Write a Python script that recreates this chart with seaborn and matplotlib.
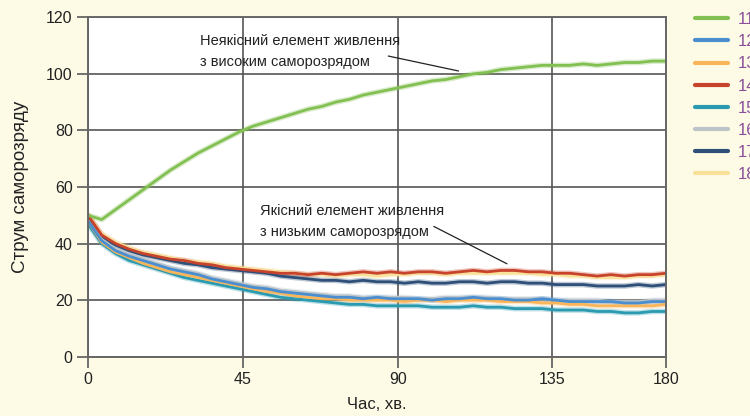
import pandas as pd
import matplotlib
matplotlib.use('Agg')
import matplotlib.pyplot as plt
import seaborn as sns

# time axis (minutes, read in the picture's own scale)
minutes = list(range(0, 169, 4))

series_names = ['11', '12', '13', '14', '15', '16', '17', '18']
series_colors = ['#82c052', '#4a8ed0', '#f9b55a', '#c8432c',
                 '#2a9ab0', '#bcc4c8', '#2d4f78', '#f9e19a']

cell_11 = [50, 48.5, 52, 55.5, 59, 62.5, 66, 69, 72, 74.5, 77, 79.5, 81.5, 83, 84.5,
           86, 87.5, 88.5, 90, 91, 92.5, 93.5, 94.5, 95.5, 96.5, 97.5, 98, 99, 100,
           100.5, 101.5, 102, 102.5, 103, 103, 103, 103.5, 103, 103.5, 104, 104, 104.5, 104.5]
cell_12 = [48, 41, 37.5, 35.5, 34, 32.5, 31, 30, 29, 27.5, 26.5, 25.5, 24.5, 24, 23,
           22.5, 22, 21.5, 21, 21, 20.5, 21, 20.5, 20.5, 20.5, 20, 20.5, 20.5, 21,
           20.5, 20.5, 20, 20, 20.5, 20, 19.5, 19.5, 19.5, 19.5, 19, 19, 19.5, 19.5]
cell_13 = [48, 40.5, 37, 35, 33, 31.5, 30, 29, 28, 27, 26, 25, 24, 23, 22.5,
           21.5, 21, 20.5, 20.5, 20, 20, 20, 20, 19.5, 20, 20, 19.5, 20, 20,
           20, 19.5, 19.5, 19.5, 19, 19, 18.5, 18.5, 18, 18, 18, 18, 18, 18.5]
cell_14 = [50, 43, 40, 38, 36.5, 35.5, 34.5, 34, 33, 32.5, 31.5, 31, 30.5, 30, 29.5,
           29.5, 29, 29.5, 29, 29.5, 30, 29.5, 30, 29.5, 30, 30, 29.5, 30, 30.5,
           30, 30.5, 30.5, 30, 30, 29.5, 29.5, 29, 28.5, 29, 28.5, 29, 29, 29.5]
cell_15 = [47, 40, 36.5, 34, 32.5, 31, 29.5, 28, 27, 26, 25, 24, 23, 22, 21,
           20.5, 20, 19.5, 19, 18.5, 18.5, 18, 18, 18, 18, 17.5, 17.5, 17.5, 18,
           17.5, 17.5, 17, 17, 17, 16.5, 16.5, 16.5, 16, 16, 15.5, 15.5, 16, 16]
cell_16 = [48, 41.5, 38, 36, 34.5, 33, 31.5, 30.5, 29.5, 28, 27, 26, 25, 24.5, 23.5,
           23, 22.5, 22, 21.5, 21.5, 21, 21, 21, 21, 20.5, 20.5, 21, 21, 21,
           21, 20.5, 20.5, 20.5, 20.5, 20, 20, 20, 20, 19.5, 19.5, 19.5, 20, 20]
cell_17 = [49, 42.5, 39.5, 37.5, 36, 35, 34, 33, 32.5, 31.5, 31, 30.5, 30, 29.5, 28.5,
           28, 27.5, 27, 27, 26.5, 27, 26.5, 26.5, 26, 26.5, 26, 26, 26.5, 26.5,
           26, 26.5, 26.5, 26, 26, 25.5, 25.5, 25.5, 25, 25, 25, 25.5, 25, 25.5]
cell_18 = [50, 43.5, 40.5, 38.5, 37, 36, 35, 34, 33.5, 33, 32, 31.5, 31, 30.5, 30,
           29.5, 29, 29, 28.5, 29, 29, 28.5, 29, 29, 29.5, 29.5, 29, 29.5, 29.5,
           29.5, 29.5, 29.5, 29.5, 29, 29, 28.5, 28.5, 28, 28, 28, 28.5, 28.5, 29]

x_ticks = [0, 45, 90, 135, 168]
x_tick_labels = ['0', '45', '90', '135', '180']
y_ticks = [0, 20, 40, 60, 80, 100, 120]

values = [cell_11, cell_12, cell_13, cell_14, cell_15, cell_16, cell_17, cell_18]
rows = []
for name, vals in zip(series_names, values):
    for t, v in zip(minutes, vals):
        rows.append({'t': t, 'v': v, 'cell': name})
df = pd.DataFrame(rows)

sns.set_style('white')
plt.rcParams['font.family'] = ['Liberation Sans', 'DejaVu Sans']

bg = '#fdfbe6'
fig = plt.figure(figsize=(7.5, 4.16), dpi=100, facecolor=bg)
ax = fig.add_axes([0.1173, 0.1425, 0.7707, 0.816])
ax.set_facecolor('white')

palette = dict(zip(series_names, series_colors))
# soft halo under each line
sns.lineplot(data=df, x='t', y='v', hue='cell', hue_order=series_names[::-1],
             palette=palette, lw=4, alpha=0.3, legend=False, ax=ax)
sns.lineplot(data=df, x='t', y='v', hue='cell', hue_order=series_names[::-1],
             palette=palette, lw=2, ax=ax)

ax.set_xlim(0, 168)
ax.set_ylim(0, 120)
ax.set_xticks(x_ticks)
ax.set_xticklabels(x_tick_labels)
ax.set_yticks(y_ticks)
ax.grid(True, color='#555555', lw=1.2)
ax.set_axisbelow(True)
for s in ax.spines.values():
    s.set_color('#666666')
    s.set_linewidth(1.4)
ax.tick_params(axis='both', direction='out', length=8, width=1.3, color='#666666',
               labelsize=11.5, labelcolor='#222222', left=True, bottom=True, pad=3)
ax.set_xlabel('Час, хв.', fontsize=12, color='#222222', labelpad=7)
ax.set_ylabel('Струм саморозряду', fontsize=13.5, color='#222222', labelpad=12)

# annotations
ax.text(32.5, 114, 'Неякісний елемент живлення\nз високим саморозрядом',
        fontsize=10.5, color='#222222', va='top', ha='left', linespacing=1.6)
ax.annotate('', xy=(108.5, 100.8), xytext=(86.5, 106.5),
            arrowprops=dict(arrowstyle='-', color='#222222', lw=0.9))
ax.text(50, 54, 'Якісний елемент живлення\nз низьким саморозрядом',
        fontsize=10.5, color='#222222', va='top', ha='left', linespacing=1.6)
ax.annotate('', xy=(122.5, 32.4), xytext=(99.8, 46.5),
            arrowprops=dict(arrowstyle='-', color='#222222', lw=0.9))

# legend on the right, cut by the edge as in the original
handles, labels = ax.get_legend_handles_labels()
order = [labels.index(n) for n in series_names]
ax.legend_.remove()
leg = fig.legend([handles[i] for i in order], series_names, loc='upper left',
                 bbox_to_anchor=(0.9267, 0.971), frameon=False, fontsize=12,
                 borderpad=0, borderaxespad=0,
                 handlelength=1.95, handletextpad=0.6, labelspacing=0.43)
for txt in leg.get_texts():
    txt.set_color('#8b4f9a')
for line in leg.get_lines():
    line.set_linewidth(3)

fig.savefig('out.png', dpi=100, facecolor=bg)
